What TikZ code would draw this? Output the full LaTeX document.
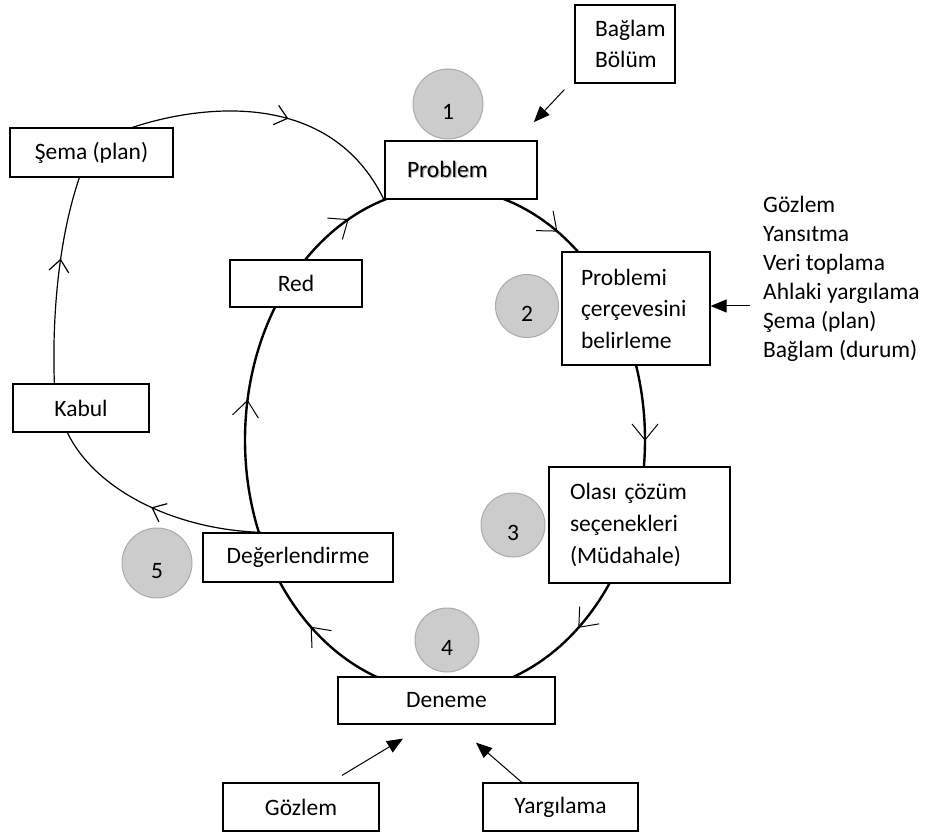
\documentclass[tikz,border=0pt]{standalone}
\usepackage{fontspec}
\setmainfont{Carlito}
\usetikzlibrary{arrows.meta,decorations.markings}
\begin{document}
\begin{tikzpicture}[x=1pt,y=-1pt,
  txt/.style={font=\fontsize{23.5}{29}\selectfont},
  box/.style={draw, line width=1.2pt, fill=white, inner sep=0pt, txt},
  num/.style={circle, fill=black!20, draw=black!33, line width=1pt, inner sep=0pt, txt, text height=31pt, text depth=0pt},
  ring/.style={line width=2.4pt},
  thinloop/.style={line width=1.2pt},
  chevline/.style={line width=1pt},
  feed/.style={line width=1pt, -{Triangle[length=16pt,width=13pt]}},
  chevmark/.style={postaction={decorate}, decoration={markings, mark=at position #1 with {\arrow{Straight Barb[length=12pt,width=20pt]}}}}
]
\useasboundingbox (0,0) rectangle (935,834);

% main cycle
\draw[ring] (445,440) ellipse [x radius=200pt, y radius=252pt];
\foreach \t in {-56,0,48,132,189,241}{
  \pgfmathsetmacro\chx{445+200*cos(\t)}
  \pgfmathsetmacro\chy{440+252*sin(\t)}
  \pgfmathsetmacro\cha{atan2(-252*cos(\t),-200*sin(\t))}
  \draw[chevline, shift={(\chx,\chy)}, rotate=\cha] (-16pt,13pt) -- (0pt,0pt) -- (-16pt,-13pt);
}

% boxes
\node[box, minimum width=152pt, minimum height=58pt, text width=108pt, inner xsep=22pt, align=left, line width=1.8pt] (prob) at (461,170)
  {\rlap{\color{black!30}\hspace{1.2pt}\raisebox{-1.2pt}{Problem}}Problem};
\node[box, minimum width=100pt, minimum height=78pt, text width=70pt, inner xsep=15pt, align=left, font=\fontsize{23.5}{31}\selectfont] (bag) at (625,44) {\hspace*{5pt}Bağlam\\\hspace*{5pt}Bölüm};
\node[box, minimum width=148pt, minimum height=113pt, text width=110pt, inner xsep=19pt, align=left, font=\fontsize{23.5}{31.5}\selectfont] (frame) at (636,308.5) {Problemi\\çerçevesini\\belirleme};
\node[box, minimum width=181pt, minimum height=116pt, text width=139pt, inner xsep=21pt, align=left, font=\fontsize{23.5}{32}\selectfont] (opt) at (639.5,525) {Olası çözüm\\seçenekleri\\(Müdahale)};
\node[box, minimum width=217pt, minimum height=47pt] (den) at (446.5,700.5) {Deneme};
\node[box, minimum width=190pt, minimum height=49pt] (deg) at (298,557.5) {Değerlendirme};
\node[box, minimum width=136pt, minimum height=48pt] (kab) at (81,408) {Kabul};
\node[box, minimum width=132pt, minimum height=47pt] (red) at (296,283.5) {Red};
\node[box, minimum width=163pt, minimum height=49pt] (sema) at (91.5,152.5) {Şema (plan)};
\node[box, minimum width=156pt, minimum height=48pt] (goz) at (301,807) {Gözlem};
\node[box, minimum width=155pt, minimum height=48pt] (yar) at (560.5,807) {Yargılama};

\node[txt, align=left, inner sep=0pt, anchor=west] (list) at (763,278.5)
  {Gözlem\\Yansıtma\\Veri toplama\\Ahlaki yargılama\\Şema (plan)\\Bağlam (durum)};

% outer loop
\draw[thinloop, chevmark=0.5] ([xshift=60pt]deg.north west) .. controls (175,530) and (95,490) .. ([xshift=55pt]kab.south west);
\draw[thinloop, chevmark=0.6] ([xshift=42pt]kab.north west) .. controls (52,320) and (58,240) .. ([xshift=70pt]sema.south west);
\draw[thinloop, chevmark=0.55] ([xshift=123pt]sema.north west) .. controls (200,105) and (330,88) .. (prob.south west);

% feeding arrows
\draw[feed] ([shift={(-10pt,-6pt)}]bag.south west) -- ([shift={(-4pt,18pt)}]prob.north east);
\draw[feed] ([shift={(-13pt,-27.5pt)}]list.west) -- ([yshift=2.5pt]frame.east);
\draw[feed] ([shift={(41pt,7pt)}]goz.north) -- ([shift={(-43.5pt,-14pt)}]den.south);
\draw[feed] ([shift={(-37.5pt,-1pt)}]yar.north) -- ([shift={(29.5pt,-18pt)}]den.south);

% numbered circles
\node[num, minimum size=70pt] (n1) at (448,104) {1};
\node[num, minimum size=63pt] (n2) at (527,306) {2};
\node[num, minimum size=64pt] (n3) at (513,525) {3};
\node[num, minimum size=64pt] (n4) at (447,640) {4};
\node[num, minimum size=70pt] (n5) at (157,563) {5};
\end{tikzpicture}
\end{document}
